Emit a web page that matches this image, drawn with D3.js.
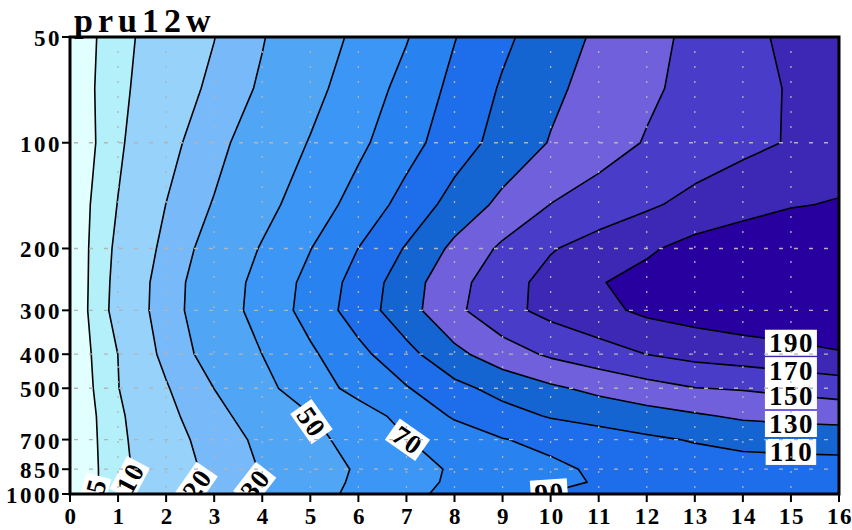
<!DOCTYPE html>
<html>
<head>
<meta charset="utf-8">
<script src="https://cdn.jsdelivr.net/npm/d3@7"></script>
<style>
  body { margin: 0; background: #fff; }
  text { font-family: "Liberation Serif", "DejaVu Serif", serif; font-weight: bold; }
</style>
</head>
<body>
<svg id="chart" width="852" height="530"></svg>
<script>
// axis values
var xTicks = d3.range(0, 17);
var pTicks = [50, 100, 200, 300, 400, 500, 700, 850, 1000];
var pGrid = [100, 200, 300, 400, 500, 700, 850];

// contour levels and shading (GrADS blues / purples)
var levels = [5, 10, 20, 30, 50, 70, 90, 110, 130, 150, 170, 190];
var fills = ["rgb(225,255,255)", "rgb(180,240,250)", "rgb(150,210,250)", "rgb(120,185,250)",
             "rgb(80,165,245)", "rgb(60,150,245)", "rgb(40,130,240)", "rgb(30,110,235)",
             "rgb(20,100,210)", "rgb(112,96,220)", "rgb(72,60,200)", "rgb(60,40,180)", "rgb(40,0,160)"];

// grid of the field: x = 0..16, one row per pressure level
var xGrid = d3.range(0, 17);
var pLevels = [50, 70, 100, 150, 200, 250, 300, 400, 500, 600, 700, 850, 925, 1000];
var u50   = [1.5, 7.8, 13.9, 19.8, 29.2, 40.9, 53.6, 68.8, 89.2, 106.1, 120.5, 133.3, 144.1, 154.5, 164.4, 174.3, 179];
var u70   = [1.5, 8.3, 14.9, 21.9, 31.8, 44.5, 59.1, 76.2, 95.0, 112.1, 126.0, 137.0, 146.8, 155.4, 163.4, 171.5, 179];
var u100  = [0.5, 8.9, 16.9, 26.0, 37.8, 51.0, 65.9, 82.7, 100.8, 117.1, 131.1, 141.6, 151.3, 157.9, 164.6, 171.5, 182];
var u150  = [1.2, 10.2, 20.1, 30.8, 44.0, 59.6, 77.4, 97.0, 117.3, 134.8, 150.3, 158.6, 166.9, 176, 184, 189, 191];
var u200  = [1.0, 11.3, 22.2, 35.5, 51.4, 69.5, 90.2, 111.7, 134.5, 153.5, 168.5, 178.2, 187.3, 196.5, 200, 202, 203];
var u250  = [0.8, 11.9, 24.1, 38.7, 55.9, 75.7, 97.2, 121.2, 143.4, 162.0, 176.6, 188.9, 196, 202, 205, 206, 206];
var u300  = [0.8, 12.2, 24.3, 39.3, 56.9, 77.2, 99.4, 122.5, 145.4, 163.9, 175.8, 184.7, 194, 199, 203, 205, 205];
var u400  = [1.0, 10.05, 22.4, 35.4, 50.1, 66.9, 84.6, 103.9, 125.0, 140.8, 153.0, 161.5, 170.2, 176, 180, 184, 188.5];
var u500  = [0.5, 9.8, 19.2, 30.1, 44.5, 60.8, 76.0, 88.7, 104.4, 116.6, 126.7, 135.1, 142.8, 149.5, 151.5, 155, 159];
var u600  = [0.5, 8.7, 17.5, 26.1, 36.6, 49.1, 61.6, 75.8, 92.2, 102.6, 111.5, 116.9, 122.2, 127.5, 133, 135.5, 137];
var u700  = [0.5, 8.4, 16.1, 23.9, 32.7, 44.8, 57.0, 69.3, 79.3, 89.2, 95.2, 100.9, 106.6, 111.5, 116, 117.5, 118.5];
var u850  = [0.5, 8.1, 15.1, 22.3, 30.8, 41.3, 51.9, 62.8, 72.3, 79.1, 85.9, 93, 96, 99, 101, 102, 102.2];
var u925  = [0.5, 8.1, 15.2, 22.5, 31.1, 42.0, 52.9, 63.8, 72.8, 79.0, 85.3, 91.5, 94, 97, 99, 100, 100];
var u1000 = [0.5, 8.3, 15.5, 22.9, 31.6, 43.1, 54.4, 65.5, 74.9, 83.3, 91, 93, 95, 97, 98, 99, 99];
var field = [u50, u70, u100, u150, u200, u250, u300, u400, u500, u600, u700, u850, u925, u1000];

// where the contour labels sit (data coords) and their tilt
var labelLevels = [5, 10, 20, 30, 50, 70, 90, 110, 130, 150, 170, 190];
var labelX      = [0.54, 1.25, 2.64, 3.85, 5.03, 7.03, 9.98, 15.01, 15.01, 15.01, 15.01, 15.01];
var labelP      = [949, 900, 936, 936, 624, 702, 990, 759, 632, 526, 444, 371];
var labelAngle  = [-75, -62, -55, -52, 55, 35, -4, 0, 0, 0, 0, 0];

var svg = d3.select("#chart");
var plotL = 70, plotR = 839, plotT = 37, plotB = 494;

var x = d3.scaleLinear().domain([0, 16]).range([plotL, plotR]);
var y = d3.scaleLog().domain([50, 1000]).range([plotT, plotB]);

var nx = xGrid.length, ny = pLevels.length;
var flat = [];
field.forEach(function(row){ row.forEach(function(v){ flat.push(v); }); });

var contours = d3.contours().size([nx, ny]).thresholds(levels)(flat);

// grid coords from d3.contours -> pixels (cell centres sit at i + 0.5)
function gridToPx(pt){
    var gx = Math.max(0, Math.min(nx - 1, pt[0] - 0.5));
    var gy = Math.max(0, Math.min(ny - 1, pt[1] - 0.5));
    var i = Math.min(Math.floor(gx), nx - 2), fx = gx - i;
    var j = Math.min(Math.floor(gy), ny - 2), fy = gy - j;
    var xv = xGrid[i] + fx * (xGrid[i + 1] - xGrid[i]);
    var lp = Math.log(pLevels[j]) + fy * (Math.log(pLevels[j + 1]) - Math.log(pLevels[j]));
    return [x(xv), y(Math.exp(lp))];
}

function contourPath(c){
    var s = "";
    c.coordinates.forEach(function(poly){
        poly.forEach(function(ring){
            s += "M" + ring.map(function(pt){ return gridToPx(pt).join(","); }).join("L") + "Z";
        });
    });
    return s;
}

svg.append("clipPath").attr("id", "plotclip")
    .append("rect").attr("x", plotL).attr("y", plotT)
    .attr("width", plotR - plotL).attr("height", plotB - plotT);

var plot = svg.append("g").attr("clip-path", "url(#plotclip)");

plot.append("rect")
    .attr("x", plotL).attr("y", plotT)
    .attr("width", plotR - plotL).attr("height", plotB - plotT)
    .style("fill", fills[0]);

plot.selectAll(".band")
    .data(contours)
    .enter().append("path")
    .attr("class", "band")
    .attr("d", contourPath)
    .style("fill", function(d, i){ return fills[i + 1]; })
    .style("fill-rule", "evenodd")
    .style("stroke", "none");

plot.selectAll(".cline")
    .data(contours)
    .enter().append("path")
    .attr("class", "cline")
    .attr("d", contourPath)
    .style("fill", "none")
    .style("stroke", "#000")
    .style("stroke-width", 1.6)
    .style("stroke-linejoin", "round");

// contour labels with white boxes
labelLevels.forEach(function(lv, k){
    var g = plot.append("g")
        .attr("transform", "translate(" + x(labelX[k]) + "," + y(labelP[k]) + ") rotate(" + labelAngle[k] + ")");
    var box = g.append("rect").style("fill", "#fff");
    var t = g.append("text")
        .attr("text-anchor", "middle")
        .attr("dy", "0.35em")
        .style("font-size", "27px")
        .style("letter-spacing", "1.5px")
        .style("fill", "#000")
        .text(lv);
    var bb = t.node().getBBox();
    box.attr("x", bb.x - 4).attr("y", -13)
        .attr("width", bb.width + 7).attr("height", 26);
});

// dotted grid
plot.selectAll(".vgrid")
    .data(xTicks.slice(1, -1))
    .enter().append("line")
    .attr("class", "vgrid")
    .attr("x1", function(d){ return x(d); }).attr("x2", function(d){ return x(d); })
    .attr("y1", plotT + 14).attr("y2", plotB)
    .style("stroke", "#b4b4b4")
    .style("stroke-width", 1.3)
    .style("stroke-dasharray", "2,13");

plot.selectAll(".hgrid")
    .data(pGrid)
    .enter().append("line")
    .attr("class", "hgrid")
    .attr("x1", plotL + 4).attr("x2", plotR)
    .attr("y1", function(d){ return y(d); }).attr("y2", function(d){ return y(d); })
    .style("stroke", "#b4b4b4")
    .style("stroke-width", 1.3)
    .style("stroke-dasharray", "4,11");

// frame
svg.append("rect")
    .attr("x", plotL).attr("y", plotT)
    .attr("width", plotR - plotL).attr("height", plotB - plotT)
    .style("fill", "none")
    .style("stroke", "#000")
    .style("stroke-width", 3);

// ticks and tick labels
svg.selectAll(".xtick")
    .data(xTicks)
    .enter().append("line")
    .attr("class", "xtick")
    .attr("x1", function(d){ return x(d); }).attr("x2", function(d){ return x(d); })
    .attr("y1", plotB).attr("y2", plotB + 8)
    .style("stroke", "#000").style("stroke-width", 2);

svg.selectAll(".xlab")
    .data(xTicks)
    .enter().append("text")
    .attr("class", "xlab")
    .attr("x", function(d){ return x(d) + 1; })
    .attr("y", 524)
    .attr("text-anchor", "middle")
    .style("font-size", "23px")
    .style("letter-spacing", "1.5px")
    .text(function(d){ return d; });

svg.selectAll(".ytick")
    .data(pTicks)
    .enter().append("line")
    .attr("class", "ytick")
    .attr("x1", plotL - 8).attr("x2", plotL)
    .attr("y1", function(d){ return y(d); }).attr("y2", function(d){ return y(d); })
    .style("stroke", "#000").style("stroke-width", 2);

svg.selectAll(".ylab")
    .data(pTicks)
    .enter().append("text")
    .attr("class", "ylab")
    .attr("x", 62)
    .attr("y", function(d){ return y(d) + 9; })
    .attr("text-anchor", "end")
    .style("font-size", "23px")
    .style("letter-spacing", "2.5px")
    .text(function(d){ return d; });

svg.append("text")
    .attr("x", 74).attr("y", 32)
    .style("font-size", "34px")
    .style("letter-spacing", "5px")
    .text("pru12w");
</script>
</body>
</html>
